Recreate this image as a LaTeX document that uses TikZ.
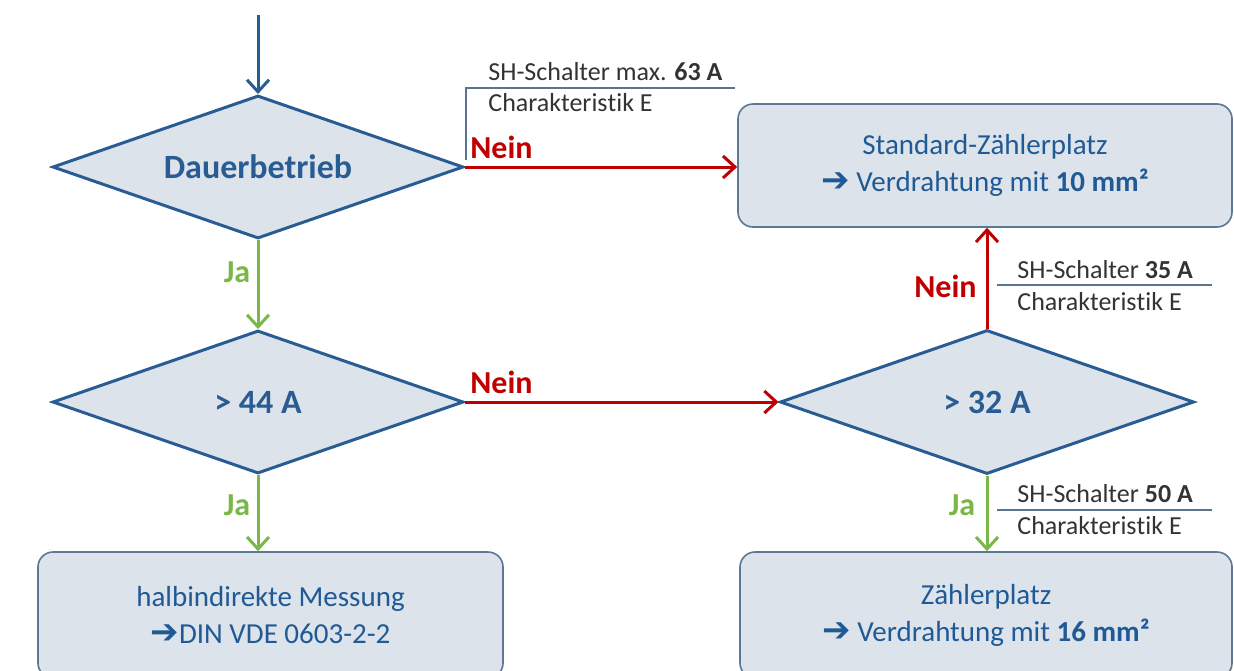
\documentclass[tikz,border=0pt]{standalone}
\usepackage{fontspec}
\setmainfont{Carlito}[Ligatures=NoCommon]
\newfontfamily\pfeilfont{DejaVu Sans}
\usetikzlibrary{shapes.geometric,arrows.meta}
\definecolor{rautenblau}{HTML}{2A5C94}
\definecolor{textblau}{HTML}{1F5A96}
\definecolor{rahmengrau}{HTML}{5B7896}
\definecolor{kastengrau}{HTML}{DDE3EA}
\definecolor{neinrot}{HTML}{C00000}
\definecolor{jagruen}{HTML}{7AB648}
\definecolor{liniengrau}{HTML}{5A7590}
\newcommand{\pfeil}{{\pfeilfont\fontsize{17}{18.5}\selectfont\char"2794}}
\newcommand{\kennlinie}{Charakteris\kern0pt tik E}

\begin{document}
\begin{tikzpicture}[x=.5pt,y=-.5pt,
	raute/.style={diamond,aspect=2.87,draw=rautenblau,line width=1.5pt,fill=kastengrau,inner sep=0pt,
		minimum width=205.5pt,minimum height=71.5pt,text=rautenblau,
		font=\fontsize{17}{20}\selectfont\bfseries},
	kasten/.style={rectangle,rounded corners=7.5pt,draw=rahmengrau,line width=.8pt,fill=kastengrau,
		align=center,text=textblau,font=\fontsize{14.5}{18.5}\selectfont},
	hinweis/.style={inner sep=0pt,anchor=west,text=black!80,font=\fontsize{13}{15}\selectfont},
	hinweislinie/.style={draw=liniengrau,line width=.6pt},
	neintext/.style={inner sep=0pt,text=neinrot,font=\fontsize{16}{18}\selectfont\bfseries},
	jatext/.style={inner sep=0pt,text=jagruen,font=\fontsize{16}{18}\selectfont\bfseries},
	nein/.style={draw=neinrot,line width=1.5pt,-{Straight Barb[length=6pt,width=11pt]}},
	ja/.style={draw=jagruen,line width=1.5pt,-{Straight Barb[length=6pt,width=11pt]}},
	start/.style={draw=rautenblau,line width=1.5pt,-{Straight Barb[length=6pt,width=11pt]}}]
	\useasboundingbox (0,0) rectangle (1234,670);

	% Entscheidungen
	\node[raute] (dauer) at (258,167) {Dauerbetrieb};
	\node[raute] (ueber44) at (258,402) {> 44 A};
	\node[raute,minimum width=207pt,minimum height=72pt] (ueber32) at (987,402) {> 32 A};

	% Ergebnisse
	\node[kasten,minimum width=247pt,minimum height=61.5pt] (standard) at (985,165.5)
		{Standard-Zählerplatz\\\pfeil{} Verdrahtung mit \textbf{10 mm²}};
	\node[kasten,minimum width=232.5pt,minimum height=63pt] (halbdirekt) at (270.5,615)
		{halbindirekte Messung\\\pfeil{}DIN VDE 0603-2-2};
	\node[kasten,minimum width=246pt,minimum height=63pt] (zaehler) at (986,615)
		{Zählerplatz\\\pfeil{} Verdrahtung mit \textbf{16 mm²}};

	% Pfeile
	\coordinate (anfang) at (258,15);
	\draw[start] (anfang) -- (dauer.north);
	\draw[nein] (dauer.east) -- (dauer.east -| standard.west);
	\draw[ja] (dauer.south) -- (ueber44.north);
	\draw[nein] (ueber44.east) -- (ueber32.west);
	\draw[ja] (ueber44.south) -- (ueber44.south |- halbdirekt.north);
	\draw[nein] (ueber32.north) -- (ueber32.north |- standard.south);
	\draw[ja] (ueber32.south) -- (ueber32.south |- zaehler.north);

	\node[neintext,anchor=west] (nein1) at (470,147) {Nein};
	\node[neintext,anchor=west] (nein2) at (470,382) {Nein};
	\node[neintext,anchor=east] (nein3) at (977,286) {Nein};
	\node[jatext] (ja1) at (237,272) {Ja};
	\node[jatext] (ja2) at (237,505) {Ja};
	\node[jatext] (ja3) at (962,505) {Ja};

	% Schalter
	\node[hinweis] (schalter63) at (488,72) {SH-Schalter max. \textbf{63 A}};
	\node[hinweis] (kennlinie63) at (488,103) {\kennlinie};
	\draw[hinweislinie] (466,160) -- (466,88) -- (735,88);
	\node[hinweis] (schalter35) at (1017,270) {SH-Schalter \textbf{35 A}};
	\node[hinweis] (kennlinie35) at (1017,302) {\kennlinie};
	\draw[hinweislinie] (997,285) -- (1212,285);
	\node[hinweis] (schalter50) at (1017,494) {SH-Schalter \textbf{50 A}};
	\node[hinweis] (kennlinie50) at (1017,526) {\kennlinie};
	\draw[hinweislinie] (997,510) -- (1212,510);
\end{tikzpicture}
\end{document}
